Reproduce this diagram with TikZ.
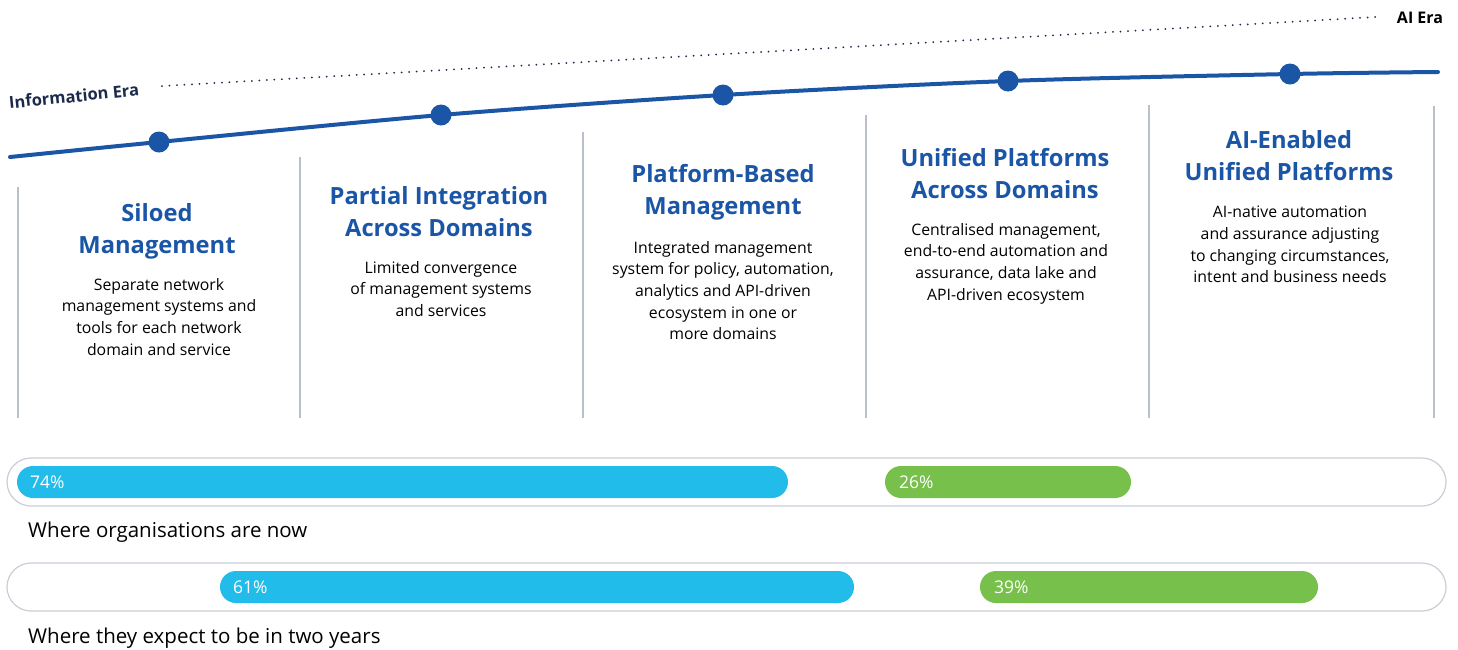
\documentclass[tikz,border=0pt]{standalone}
\usepackage{fontspec}
\setmainfont{Open Sans}
\usetikzlibrary{positioning}
\usetikzlibrary{calc}
\definecolor{eraBlue}{HTML}{1B55A5}
\definecolor{eraNavy}{HTML}{1B2A4A}
\definecolor{sepGray}{HTML}{B9C0CC}
\definecolor{barBlue}{HTML}{22BCEB}
\definecolor{barGreen}{HTML}{77C04B}
\definecolor{barFrame}{HTML}{C9CED7}

\begin{document}
\begin{tikzpicture}[x=1pt, y=-1pt,
    TITLE/.style={align=center, text=eraBlue, font=\fontsize{23.7}{32}\selectfont\bfseries, inner sep=0pt},
    BODY/.style={align=center, text=black, font=\fontsize{15.8}{21.6}\selectfont, inner sep=0pt},
    DOT/.style={circle, fill=eraBlue, minimum size=21pt, inner sep=0pt},
    SEP/.style={draw=sepGray, line width=1.2pt},
    FRAME/.style={draw=barFrame, line width=1.2pt, fill=white, rounded corners=24pt},
    BAR/.style={rounded corners=16pt},
    PCT/.style={text=white, font=\fontsize{17.5}{17.5}\selectfont, anchor=west, inner sep=0pt},
    CAPTION/.style={font=\fontsize{20.5}{21}\selectfont, anchor=west, inner sep=0pt},
    ]
        \useasboundingbox (0,0) rectangle (1458,649);

        % eras
        \coordinate (E0) at (162,86);
        \coordinate (E1) at (1376,17);
        \draw[eraNavy, line width=2pt, dash pattern=on 0pt off 7.5pt, line cap=round] (E0) -- (E1);
        \node[rotate=5.6, text=eraNavy, font=\fontsize{16.5}{17}\selectfont\bfseries, inner sep=0pt] (IE) at (74,96) {Information Era};
        \node[font=\fontsize{16}{16}\selectfont\bfseries, inner sep=0pt] (AE) at (1420,18) {AI Era};

        % separators
        \draw[SEP] (18,187) -- (18,418);
        \draw[SEP] (300,157) -- (300,418);
        \draw[SEP] (583,132) -- (583,418);
        \draw[SEP] (866,115) -- (866,418);
        \draw[SEP] (1149,105) -- (1149,418);
        \draw[SEP] (1434,106) -- (1434,418);

        % curve
        \coordinate (C0) at (10,157);
        \coordinate (C1) at (159,142);
        \coordinate (C2) at (441,115);
        \coordinate (C3) at (723,95);
        \coordinate (C4) at (1008,81);
        \coordinate (C5) at (1290,74);
        \coordinate (C6) at (1438,72);
        \draw[eraBlue, line width=4pt, line cap=round] plot[smooth, tension=0.5] coordinates {(C0) (C1) (C2) (C3) (C4) (C5) (C6)};
        \foreach \i in {1,...,5} {
            \node[DOT] (D\i) at (C\i) {};
        }

        % stages
        \node[TITLE] (T1) at (157,231) {Siloed\\Management};
        \node[BODY, anchor=north] (B1) at (159,278) {Separate network\\management systems and\\tools for each network\\domain and service};
        \node[TITLE] (T2) at (439,212) {Partial Integration\\Across Domains};
        \node[BODY, anchor=north] (B2) at (441,261) {Limited convergence\\of management systems\\and services};
        \node[TITLE] (T3) at (723,192) {Platform-Based\\Management};
        \node[BODY, anchor=north] (B3) at (723,241) {Integrated management\\system for policy, automation,\\analytics and API-driven\\ecosystem in one or\\more domains};
        \node[TITLE] (T4) at (1005,174) {Unified Platforms\\Across Domains};
        \node[BODY, anchor=north] (B4) at (1006,223) {Centralised management,\\end-to-end automation and\\assurance, data lake and\\API-driven ecosystem};
        \node[TITLE] (T5) at (1289,156) {AI-Enabled\\Unified Platforms};
        \node[BODY, anchor=north] (B5) at (1290,206) {AI-native automation\\and assurance adjusting\\to changing circumstances,\\intent and business needs};

        % bars
        \draw[FRAME] (7,458) rectangle (1446,506);
        \fill[barBlue, BAR] (17,466) rectangle (788,498);
        \fill[barGreen, BAR] (885,466) rectangle (1131,498);
        \node[PCT] (P1) at (30,482) {74\%};
        \node[PCT] (P2) at (899,482) {26\%};
        \node[CAPTION] (L1) at (28,532) {Where organisations are now};

        \draw[FRAME] (7,563) rectangle (1446,611);
        \fill[barBlue, BAR] (220,571) rectangle (854,603);
        \fill[barGreen, BAR] (980,571) rectangle (1318,603);
        \node[PCT] (P3) at (233,587) {61\%};
        \node[PCT] (P4) at (994,587) {39\%};
        \node[CAPTION] (L2) at (28,638) {Where they expect to be in two years};
    \end{tikzpicture}
\end{document}
